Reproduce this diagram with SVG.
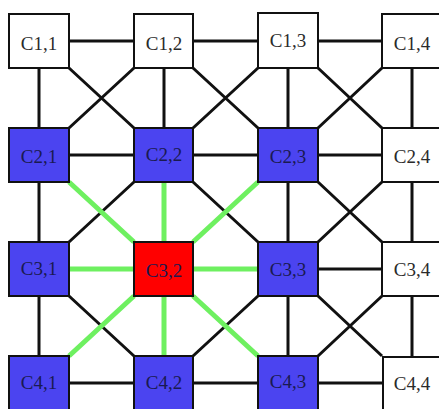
<svg xmlns="http://www.w3.org/2000/svg" width="439" height="409" viewBox="0 0 439 409">
<style>
.n rect{stroke:#111;stroke-width:2}
.w{fill:#fff}
.b{fill:#4b44f0}
.r{fill:#ff0000}
.n text{font-family:"Liberation Serif",serif;font-size:19px;text-anchor:middle;fill:#2a2a2a}
.n .bt{fill:#1a1a50}
.k{stroke:#111;stroke-width:3;fill:none}
.g{stroke:#6ef060;stroke-width:5;fill:none}
</style>
<rect width="439" height="409" fill="#fff"/>
<g id="connectors">
<g class="k">
<path d="M69 41H134M193 41H258M318 41H382"/>
<path d="M69 155H134M193 155H258M318 155H382"/>
<path d="M318 269H382"/>
<path d="M69 383H134M193 383H258M318 383H382"/>
<path d="M39 68V128M164 68V128M288 68V128M412 68V128"/>
<path d="M39 182V242M288 182V242M412 182V242"/>
<path d="M39 296V356M288 296V356M412 296V356"/>
<path d="M69 68L134 128M134 68L69 128M193 68L258 128M258 68L193 128M318 68L382 128M382 68L318 128"/>
<path d="M134 182L69 242M193 182L258 242M318 182L382 242M382 182L318 242"/>
<path d="M69 296L134 356M258 296L193 356M318 296L382 356M382 296L318 356"/>
</g>
<g class="g">
<path d="M69 269H134M193 269H258M164 182V242M164 296V356"/>
<path d="M69 182L134 242M258 182L193 242M134 296L69 356M193 296L258 356"/>
</g>
</g>
<g id="C1_1" class="n"><rect class="w" x="9" y="14" width="60" height="54"/><text x="39" y="50">C1,1</text></g>
<g id="C1_2" class="n"><rect class="w" x="134" y="14" width="59" height="54"/><text x="164" y="50">C1,2</text></g>
<g id="C1_3" class="n"><rect class="w" x="258" y="13" width="60" height="55"/><text x="288" y="47">C1,3</text></g>
<g id="C1_4" class="n"><rect class="w" x="382" y="14" width="60" height="54"/><text x="412" y="50">C1,4</text></g>
<g id="C2_1" class="n"><rect class="b" x="9" y="128" width="60" height="54"/><text class="bt" x="39" y="163">C2,1</text></g>
<g id="C2_2" class="n"><rect class="b" x="134" y="128" width="59" height="54"/><text class="bt" x="164" y="161">C2,2</text></g>
<g id="C2_3" class="n"><rect class="b" x="258" y="128" width="60" height="54"/><text class="bt" x="288" y="163">C2,3</text></g>
<g id="C2_4" class="n"><rect class="w" x="382" y="128" width="60" height="54"/><text x="412" y="163">C2,4</text></g>
<g id="C3_1" class="n"><rect class="b" x="9" y="242" width="60" height="54"/><text class="bt" x="39" y="275">C3,1</text></g>
<g id="C3_2" class="n"><rect class="r" x="134" y="242" width="59" height="54"/><text class="bt" x="164" y="277">C3,2</text></g>
<g id="C3_3" class="n"><rect class="b" x="258" y="242" width="60" height="54"/><text class="bt" x="288" y="276">C3,3</text></g>
<g id="C3_4" class="n"><rect class="w" x="382" y="242" width="60" height="54"/><text x="412" y="276">C3,4</text></g>
<g id="C4_1" class="n"><rect class="b" x="9" y="356" width="60" height="60"/><text class="bt" x="39" y="389">C4,1</text></g>
<g id="C4_2" class="n"><rect class="b" x="134" y="356" width="59" height="60"/><text class="bt" x="164" y="389">C4,2</text></g>
<g id="C4_3" class="n"><rect class="b" x="258" y="356" width="60" height="60"/><text class="bt" x="288" y="388">C4,3</text></g>
<g id="C4_4" class="n"><rect class="w" x="383" y="357" width="60" height="60"/><text x="412" y="390">C4,4</text></g>
</svg>
